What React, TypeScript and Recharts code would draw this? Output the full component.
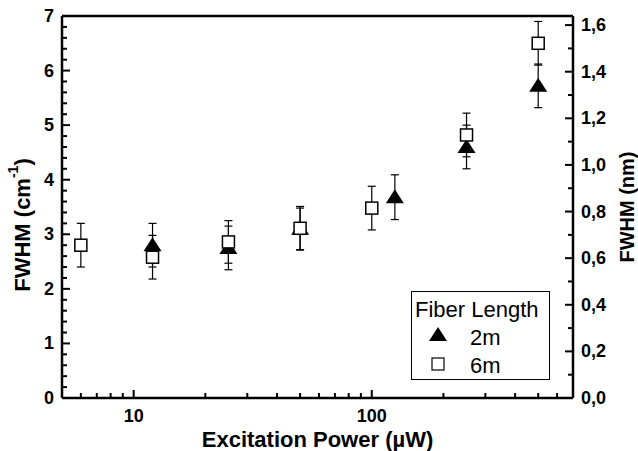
import React from "react";
import {
  ScatterChart,
  Scatter,
  XAxis,
  YAxis,
  ErrorBar,
  Legend,
} from "recharts";

// excitation power (µW) and FWHM (cm^-1)
const power2m = [12, 25, 50, 125, 250, 500];
const fwhm2m = [2.8, 2.75, 3.1, 3.68, 4.6, 5.72];
const err2m = [0.4, 0.4, 0.38, 0.41, 0.4, 0.4];

const power6m = [6, 12, 25, 50, 100, 250, 500];
const fwhm6m = [2.8, 2.58, 2.86, 3.11, 3.48, 4.82, 6.5];
const err6m = [0.4, 0.4, 0.39, 0.4, 0.4, 0.4, 0.4];

const xTicks = [6, 7, 8, 9, 10, 20, 30, 40, 50, 60, 70, 80, 90, 100, 200, 300, 400, 500, 600, 700];
const xMajor = [10, 100];
const cmTicks = [0, 0.2, 0.4, 0.6, 0.8, 1, 1.2, 1.4, 1.6, 1.8, 2, 2.2, 2.4, 2.6, 2.8, 3, 3.2, 3.4, 3.6, 3.8, 4, 4.2, 4.4, 4.6, 4.8, 5, 5.2, 5.4, 5.6, 5.8, 6, 6.2, 6.4, 6.6, 6.8, 7];
const nmTicks = [0, 0.1, 0.2, 0.3, 0.4, 0.5, 0.6, 0.7, 0.8, 0.9, 1, 1.1, 1.2, 1.3, 1.4, 1.5, 1.6];

const data2m = power2m.map((p, i) => ({ p, v: fwhm2m[i], e: err2m[i] }));
const data6m = power6m.map((p, i) => ({ p, v: fwhm6m[i], e: err6m[i] }));

const FONT = "'Liberation Sans', Arial, sans-serif";
const axisLine = { stroke: "#000", strokeWidth: 2.5 };

const isMajorX = (v: number) => xMajor.includes(v);
const isInt = (v: number) => Math.abs(v - Math.round(v)) < 1e-6;
const isEvenTenth = (v: number) => Math.round(v * 10) % 2 === 0;

const BottomTick = ({ x, y, payload }: any) => {
  const major = isMajorX(payload.value);
  return (
    <g>
      <line x1={x} x2={x} y1={y} y2={y - (major ? 8 : 5)} stroke="#000" strokeWidth={2} />
      {major && (
        <text x={x} y={y + 18} textAnchor="middle" dominantBaseline="central" fontFamily={FONT} fontWeight="bold" fontSize={18} fill="#000">
          {payload.value}
        </text>
      )}
    </g>
  );
};

const TopTick = ({ x, y, payload }: any) => {
  const major = isMajorX(payload.value);
  return <line x1={x} x2={x} y1={y} y2={y + (major ? 8 : 5)} stroke="#000" strokeWidth={2} />;
};

const LeftTick = ({ x, y, payload }: any) => {
  const major = isInt(payload.value);
  return (
    <g>
      <line x1={x} x2={x + (major ? 8 : 5)} y1={y} y2={y} stroke="#000" strokeWidth={2} />
      {major && (
        <text x={x - 8} y={y} textAnchor="end" dominantBaseline="central" fontFamily={FONT} fontWeight="bold" fontSize={18} fill="#000">
          {Math.round(payload.value)}
        </text>
      )}
    </g>
  );
};

const RightTick = ({ x, y, payload }: any) => {
  const major = isEvenTenth(payload.value);
  return (
    <g>
      <line x1={x} x2={x - (major ? 8 : 5)} y1={y} y2={y} stroke="#000" strokeWidth={2} />
      {major && (
        <text x={x + 8} y={y} textAnchor="start" dominantBaseline="central" fontFamily={FONT} fontWeight="bold" fontSize={18} fill="#000">
          {payload.value.toFixed(1).replace(".", ",")}
        </text>
      )}
    </g>
  );
};

const Triangle = ({ cx, cy }: any) => (
  <path d={`M${cx},${cy - 8} L${cx + 9},${cy + 6} L${cx - 9},${cy + 6} Z`} fill="#000" />
);

const Square = ({ cx, cy }: any) => (
  <rect x={cx - 6} y={cy - 6} width={12} height={12} fill="#fff" stroke="#000" strokeWidth={1.5} />
);

const FiberLegend = () => (
  <div
    style={{
      width: 139,
      height: 89,
      boxSizing: "border-box",
      border: "1px solid #000",
      background: "#fff",
    }}
  >
    <svg width={137} height={87} style={{ display: "block" }}>
      <text x={3} y={25} fontFamily={FONT} fontSize={22} fill="#000">Fiber Length</text>
      <path d="M26,35 L35,49 L17,49 Z" fill="#000" />
      <text x={58} y={53} fontFamily={FONT} fontSize={22} fill="#000">2m</text>
      <rect x={20} y={66} width={12} height={12} fill="#fff" stroke="#000" strokeWidth={1.2} />
      <text x={58} y={81} fontFamily={FONT} fontSize={22} fill="#000">6m</text>
    </svg>
  </div>
);

export default function App() {
  return (
    <div style={{ position: "absolute", left: 0, top: 0, width: 638, height: 451, background: "#fff" }}>
      <ScatterChart width={638} height={451} margin={{ top: 0, right: 0, bottom: 0, left: 0 }}>
        <XAxis
          xAxisId="bottom"
          dataKey="p"
          type="number"
          scale="log"
          domain={[5, 700]}
          allowDataOverflow
          ticks={xTicks}
          interval={0}
          height={53}
          axisLine={axisLine}
          tickLine={false}
          tickSize={0}
          tickMargin={0}
          tick={<BottomTick />}
          label={{
            value: "Excitation Power (µW)",
            position: "insideBottom",
            offset: 4,
            style: { fontFamily: FONT, fontWeight: "bold", fontSize: 22, fill: "#000" },
          }}
        />
        <XAxis
          xAxisId="top"
          orientation="top"
          type="number"
          scale="log"
          domain={[5, 700]}
          allowDataOverflow
          ticks={xTicks}
          interval={0}
          height={16}
          axisLine={axisLine}
          tickLine={false}
          tickSize={0}
          tickMargin={0}
          tick={<TopTick />}
        />
        <YAxis
          yAxisId="left"
          dataKey="v"
          type="number"
          domain={[0, 7]}
          allowDataOverflow
          ticks={cmTicks}
          interval={0}
          width={62}
          axisLine={axisLine}
          tickLine={false}
          tickSize={0}
          tickMargin={0}
          tick={<LeftTick />}
        />
        <YAxis
          yAxisId="right"
          orientation="right"
          type="number"
          domain={[0, 1.639]}
          allowDataOverflow
          ticks={nmTicks}
          interval={0}
          width={65}
          axisLine={axisLine}
          tickLine={false}
          tickSize={0}
          tickMargin={0}
          tick={<RightTick />}
        />
        <Legend
          layout="vertical"
          align="center"
          verticalAlign="middle"
          content={<FiberLegend />}
          wrapperStyle={{ left: 411, top: 291, width: 139, height: 89 }}
        />
        <Scatter name="2m" data={data2m} xAxisId="bottom" yAxisId="left" shape={<Triangle />} isAnimationActive={false}>
          <ErrorBar dataKey="e" direction="y" width={4} stroke="#000" strokeWidth={1.2} />
        </Scatter>
        <Scatter name="6m" data={data6m} xAxisId="bottom" yAxisId="left" shape={<Square />} isAnimationActive={false}>
          <ErrorBar dataKey="e" direction="y" width={4} stroke="#000" strokeWidth={1.2} />
        </Scatter>
      </ScatterChart>
      <svg width={638} height={451} style={{ position: "absolute", left: 0, top: 0, pointerEvents: "none" }}>
        <text
          transform="rotate(-90, 22, 225)"
          x={22}
          y={225}
          textAnchor="middle"
          dominantBaseline="central"
          fontFamily={FONT}
          fontWeight="bold"
          fontSize={22}
        >
          FWHM (cm<tspan dy={-9} fontSize={14}>-1</tspan><tspan dy={9}>)</tspan>
        </text>
        <text
          transform="rotate(-90, 627, 207)"
          x={627}
          y={207}
          textAnchor="middle"
          dominantBaseline="central"
          fontFamily={FONT}
          fontWeight="bold"
          fontSize={20}
        >
          FWHM (nm)
        </text>
      </svg>
    </div>
  );
}
